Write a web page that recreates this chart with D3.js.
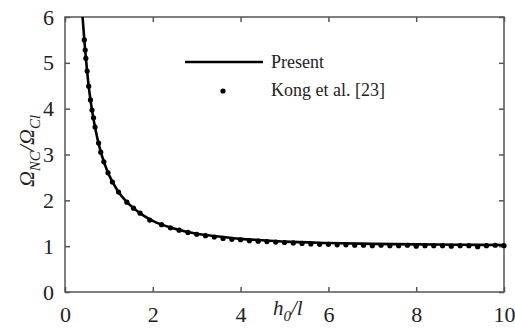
<!DOCTYPE html>
<html>
<head>
<meta charset="utf-8">
<script src="https://cdn.jsdelivr.net/npm/d3@7"></script>
<style>
  body { margin: 0; background: #fff; }
  text { font-family: "Liberation Serif", "Times New Roman", serif; fill: #222; }
</style>
</head>
<body>
<svg width="515" height="329"></svg>
<script>
// present solution (solid line)
var lineX = [0.40, 0.45, 0.50, 0.55, 0.60, 0.70, 0.80, 0.90, 1.00, 1.20, 1.40, 1.60, 1.80, 2.00,
             2.50, 3.00, 3.50, 4.00, 4.50, 5.00, 6.00, 7.00, 8.00, 9.00, 10.00];
var lineY = [6.00, 5.38, 4.85, 4.41, 4.06, 3.52, 3.11, 2.80, 2.56, 2.21, 1.97, 1.80, 1.66, 1.55,
             1.38, 1.27, 1.21, 1.16, 1.13, 1.10, 1.07, 1.05, 1.04, 1.03, 1.025];

// Kong et al. [23] points
var dotX = [0.44, 0.46, 0.475, 0.505, 0.54, 0.58, 0.615, 0.65, 0.685, 0.765, 0.815, 0.885, 0.98, 1.08,
            1.22, 1.41, 1.56, 1.71, 1.93, 2.2, 2.4, 2.6, 2.8, 3.0, 3.2, 3.4, 3.6, 3.8, 4.0, 4.2,
            4.4, 4.6, 4.8, 5.0, 5.2, 5.4, 5.6, 5.8, 6.0, 6.2, 6.4, 6.6, 6.8, 7.0, 7.2, 7.4, 7.6,
            7.8, 8.0, 8.2, 8.4, 8.6, 8.8, 9.0, 9.2, 9.4, 9.6, 9.8, 10.0];
var dotY = [5.50, 5.28, 5.10, 4.82, 4.49, 4.19, 3.97, 3.80, 3.60, 3.25, 3.05, 2.84, 2.60, 2.40,
            2.18, 1.96, 1.83, 1.72, 1.57, 1.47, 1.40, 1.35, 1.30, 1.26, 1.23, 1.20, 1.17, 1.15,
            1.14, 1.12, 1.11, 1.10, 1.09, 1.08, 1.07, 1.06, 1.05, 1.04, 1.04, 1.03, 1.03, 1.02,
            1.02, 1.01, 1.02, 1.01, 1.01, 1.02, 1.00, 1.01, 1.01, 1.01, 1.00, 1.01, 1.01, 0.99,
            1.01, 1.02, 1.01];

var xTicks = [0, 2, 4, 6, 8, 10];
var yTicks = [0, 1, 2, 3, 4, 5, 6];
var legendLabels = ['Present', 'Kong et al. [23]'];

var svg = d3.select('svg');
var mLeft = 65, mRight = 504, mTop = 17, mBottom = 292;

var x = d3.scaleLinear().domain([0, 10]).range([mLeft, mRight]);
var y = d3.scaleLinear().domain([0, 6]).range([mBottom, mTop]);

var axisColor = '#555';

// frame
svg.append('rect').attr('x', mLeft).attr('y', mTop).attr('width', mRight - mLeft).attr('height', mBottom - mTop)
  .attr('fill', 'none').attr('stroke', axisColor).attr('stroke-width', 1.5);

// ticks (inward) on all sides
var gx = svg.append('g').attr('transform', 'translate(0,' + mBottom + ')')
  .call(d3.axisBottom(x).tickValues(xTicks).tickSize(-5).tickPadding(14).tickFormat(d3.format('d')));
var gxt = svg.append('g').attr('transform', 'translate(0,' + mTop + ')')
  .call(d3.axisTop(x).tickValues(xTicks).tickSize(-5).tickFormat(''));
var gy = svg.append('g').attr('transform', 'translate(' + mLeft + ',0)')
  .call(d3.axisLeft(y).tickValues(yTicks).tickSize(-5).tickPadding(11).tickFormat(d3.format('d')));
var gyr = svg.append('g').attr('transform', 'translate(' + mRight + ',0)')
  .call(d3.axisRight(y).tickValues(yTicks).tickSize(-5).tickFormat(''));

[gx, gxt, gy, gyr].forEach(function (g) {
  g.select('.domain').remove();
  g.selectAll('line').attr('stroke', axisColor).attr('stroke-width', 1.5);
  g.selectAll('text').style('font-family', '"Liberation Serif", serif').style('font-size', '22px').attr('fill', '#222');
});

// line
var pts = lineX.map(function (d, i) { return [d, lineY[i]]; });
svg.append('path').datum(pts)
  .attr('fill', 'none').attr('stroke', '#000').attr('stroke-width', 2.6)
  .attr('d', d3.line().x(function (d) { return x(d[0]); }).y(function (d) { return y(d[1]); }).curve(d3.curveMonotoneX));

// dots
svg.append('g').selectAll('circle').data(dotX).join('circle')
  .attr('cx', function (d) { return x(d); })
  .attr('cy', function (d, i) { return y(dotY[i]); })
  .attr('r', 2.6).attr('fill', '#000');

// legend
svg.append('line').attr('x1', 185).attr('x2', 263).attr('y1', 62).attr('y2', 62)
  .attr('stroke', '#000').attr('stroke-width', 2.6);
svg.append('circle').attr('cx', 223).attr('cy', 91).attr('r', 2.6).attr('fill', '#000');
svg.append('text').attr('x', 271).attr('y', 68).style('font-size', '18px').text(legendLabels[0]);
svg.append('text').attr('x', 271).attr('y', 96).style('font-size', '18px').text(legendLabels[1]);

// x label h0/l
var xl = svg.append('text').attr('x', 273).attr('y', 315).style('font-size', '21px').style('font-style', 'italic');
xl.append('tspan').text('h');
xl.append('tspan').attr('dy', 6).style('font-size', '15px').text('0');
xl.append('tspan').attr('dy', -6).text('/l');

// y label
var yl = svg.append('text').attr('transform', 'translate(34,151) rotate(-90)')
  .attr('text-anchor', 'middle').style('font-size', '22px').style('font-style', 'italic');
yl.append('tspan').text('\u03A9');
yl.append('tspan').attr('dy', 6).style('font-size', '15px').text('NC');
yl.append('tspan').attr('dy', -6).text('/\u03A9');
yl.append('tspan').attr('dy', 6).style('font-size', '15px').text('Cl');
</script>
</body>
</html>
